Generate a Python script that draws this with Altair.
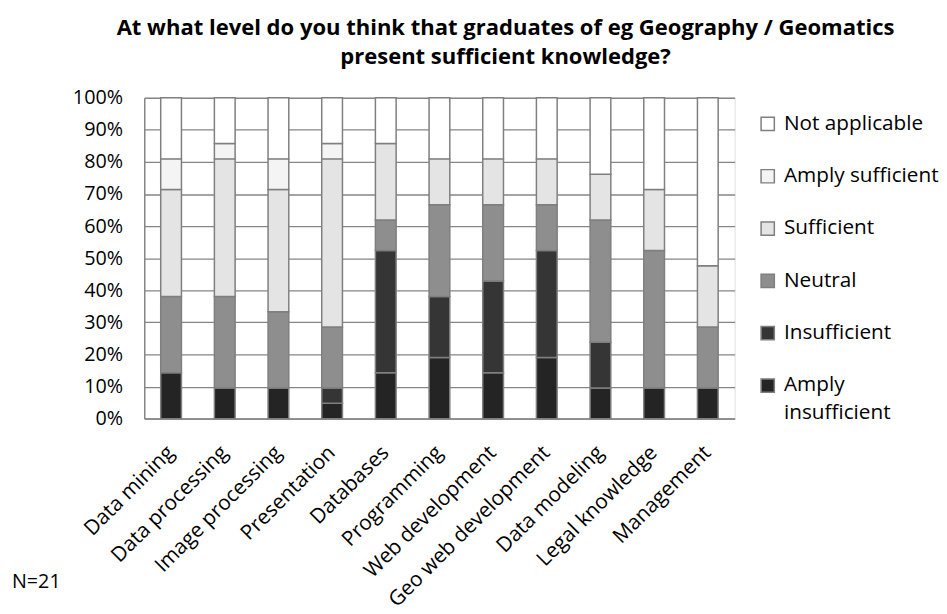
import altair as alt
import pandas as pd

categories = ["Data mining", "Data processing", "Image processing", "Presentation",
              "Databases", "Programming", "Web development", "Geo web development",
              "Data modeling", "Legal knowledge", "Management"]

# counts out of N=21 respondents
amply_insufficient = [3, 2, 2, 1, 3, 4, 3, 4, 2, 2, 2]
insufficient       = [0, 0, 0, 1, 8, 4, 6, 7, 3, 0, 0]
neutral            = [5, 6, 5, 4, 2, 6, 5, 3, 8, 9, 4]
sufficient         = [7, 9, 8, 11, 5, 3, 3, 3, 3, 4, 4]
amply_sufficient   = [2, 1, 2, 1, 0, 0, 0, 0, 0, 0, 0]
not_applicable     = [4, 3, 4, 3, 3, 4, 4, 4, 5, 6, 11]

levels = ["Not applicable", "Amply sufficient", "Sufficient", "Neutral",
          "Insufficient", "Amply insufficient"]
level_colors = ["#ffffff", "#f4f4f4", "#e4e4e4", "#8e8e8e", "#353535", "#242424"]
y_ticks = [0, 0.1, 0.2, 0.3, 0.4, 0.5, 0.6, 0.7, 0.8, 0.9, 1.0]
note = ["N=21"]
title_lines = ["At what level do you think that graduates of eg Geography / Geomatics",
               "present sufficient knowledge?"]

series = [
    ("Amply insufficient", amply_insufficient),
    ("Insufficient", insufficient),
    ("Neutral", neutral),
    ("Sufficient", sufficient),
    ("Amply sufficient", amply_sufficient),
    ("Not applicable", not_applicable),
]
rows = []
for i, (lvl, vals) in enumerate(series):
    for cat, v in zip(categories, vals):
        rows.append({"category": cat, "level": lvl, "count": v, "stackorder": i})
df = pd.DataFrame(rows)

FONT = "Open Sans"

bars = alt.Chart(df).transform_filter("datum.count > 0").mark_bar(
    size=21, stroke="#7f7f7f", strokeWidth=1.5
).encode(
    x=alt.X("category:N", sort=categories, title=None,
            axis=alt.Axis(labelAngle=-45, labelAlign="right", labelBaseline="middle",
                          labelFontSize=21, labelPadding=31, ticks=False,
                          domainColor="#868686", domainWidth=1.5, labelColor="black",
                          labelLimit=0, labelFont=FONT)),
    y=alt.Y("count:Q", stack="normalize", title=None,
            axis=alt.Axis(values=y_ticks, format=".0%", labelFontSize=20, labelPadding=22,
                          ticks=False, grid=True, gridColor="#868686", gridWidth=1.3,
                          domainColor="#868686", domainWidth=1.5, labelColor="black",
                          labelFont=FONT)),
    color=alt.Color("level:N", scale=alt.Scale(domain=levels, range=level_colors),
                    legend=alt.Legend(title=None, orient="none", legendX=621, legendY=16,
                                      symbolType="square", symbolSize=180,
                                      symbolStrokeColor="#7f7f7f", symbolStrokeWidth=1.5,
                                      labelFontSize=21, labelFont=FONT, labelColor="black",
                                      labelOffset=6, rowPadding=31, labelLimit=0,
                                      labelExpr="datum.label == 'Amply insufficient' ? ['Amply', 'insufficient'] : datum.label")),
    order=alt.Order("stackorder:Q", sort="ascending"),
)

note_layer = alt.Chart(pd.DataFrame({"note": note})).mark_text(
    align="left", baseline="middle", fontSize=20, font=FONT, color="black"
).encode(x=alt.value(-134), y=alt.value(491), text="note:N")

chart = alt.layer(bars, note_layer).properties(
    width=598, height=325,
    padding={"left": 4, "top": 5, "right": 0, "bottom": 0},
    title=alt.TitleParams(text=title_lines, font=FONT, fontSize=22.3, fontWeight="bold",
                          color="black", anchor="middle", dx=67, lineHeight=29, offset=20),
).configure_view(stroke=None).configure(
    style={"guide-label": {"lineHeight": 28}}
)

chart.save("out.html", embed_options={"renderer": "svg", "actions": False})
